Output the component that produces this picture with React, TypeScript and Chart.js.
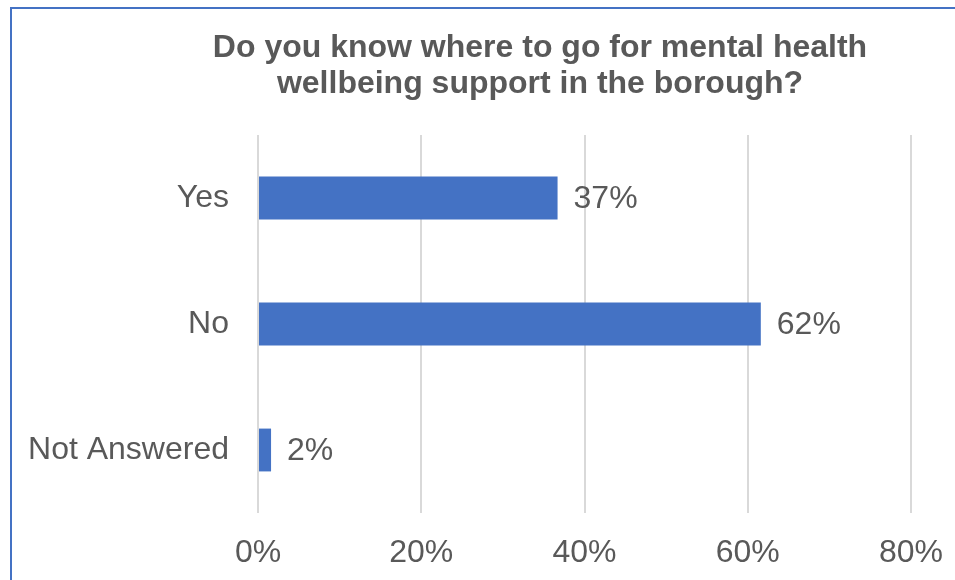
import React, { useEffect, useRef } from "react";
import { Chart, registerables } from "chart.js";

Chart.register(...registerables);

const categories = ["Yes", "No", "Not Answered"];
const values = [36.7, 61.6, 1.6];
const valueLabels = ["37%", "62%", "2%"];
const titleLines = ["Do you know where to go for mental health", "wellbeing support in the borough?"];
const xTicks = [0, 20, 40, 60, 80];

const FONT = "'Liberation Sans', Arial, sans-serif";
const TEXT = "#595959";
const BAR = "#4472C4";

const decorPlugin = {
  id: "decor",
  beforeDraw(chart: any) {
    const ctx = chart.ctx;
    ctx.save();
    ctx.fillStyle = "#ffffff";
    ctx.fillRect(0, 0, chart.width, chart.height);
    ctx.strokeStyle = "#4472C4";
    ctx.lineWidth = 2;
    ctx.beginPath();
    ctx.moveTo(11, chart.height);
    ctx.lineTo(11, 8);
    ctx.lineTo(chart.width, 8);
    ctx.stroke();
    ctx.restore();
  },
  afterDraw(chart: any) {
    const ctx = chart.ctx;
    ctx.save();
    ctx.fillStyle = TEXT;
    ctx.textAlign = "center";
    ctx.textBaseline = "middle";
    ctx.font = `bold 32px ${FONT}`;
    ctx.fillText(titleLines[0], 540, 48);
    ctx.fillText(titleLines[1], 540, 84);
    // value labels
    const meta = chart.getDatasetMeta(0);
    ctx.font = `32px ${FONT}`;
    ctx.textAlign = "left";
    meta.data.forEach((bar: any, i: number) => {
      ctx.fillText(valueLabels[i], bar.x + 16, bar.y + 1);
    });
    ctx.restore();
  },
};

export default function App() {
  const ref = useRef<HTMLCanvasElement>(null);
  useEffect(() => {
    if (!ref.current) return;
    const chart = new Chart(ref.current, {
      type: "bar",
      data: {
        labels: categories,
        datasets: [
          {
            data: values,
            backgroundColor: BAR,
            categoryPercentage: 1,
            barPercentage: 0.34,
          },
        ],
      },
      options: {
        indexAxis: "y",
        responsive: false,
        animation: false,
        layout: { padding: { top: 135, right: 44, left: 0, bottom: 0 } },
        plugins: { legend: { display: false }, title: { display: false }, tooltip: { enabled: false } },
        scales: {
          x: {
            min: 0,
            max: 80,
            afterFit(scale: any) {
              scale.height = 67;
              scale.paddingLeft = 0;
              scale.paddingRight = 0;
            },
            afterBuildTicks(scale: any) {
              scale.ticks = xTicks.map((v) => ({ value: v }));
            },
            ticks: {
              padding: 21,
              color: TEXT,
              font: { family: FONT, size: 32 },
              callback: (v: any) => `${v}%`,
            },
            grid: { color: "#d9d9d9", lineWidth: 2, drawTicks: false },
            border: { display: false },
          },
          y: {
            afterFit(scale: any) {
              scale.width = 258;
              scale.paddingTop = 0;
              scale.paddingBottom = 0;
            },
            ticks: {
              padding: 29,
              color: TEXT,
              font: { family: FONT, size: 32 },
            },
            grid: { display: false, drawTicks: false },
            border: { display: false },
          },
        },
      },
      plugins: [decorPlugin],
    } as any);
    return () => chart.destroy();
  }, []);
  return (
    <div style={{ position: "absolute", left: 0, top: 0, width: 955, height: 580 }}>
      <canvas ref={ref} width={955} height={580} style={{ display: "block" }} />
    </div>
  );
}
